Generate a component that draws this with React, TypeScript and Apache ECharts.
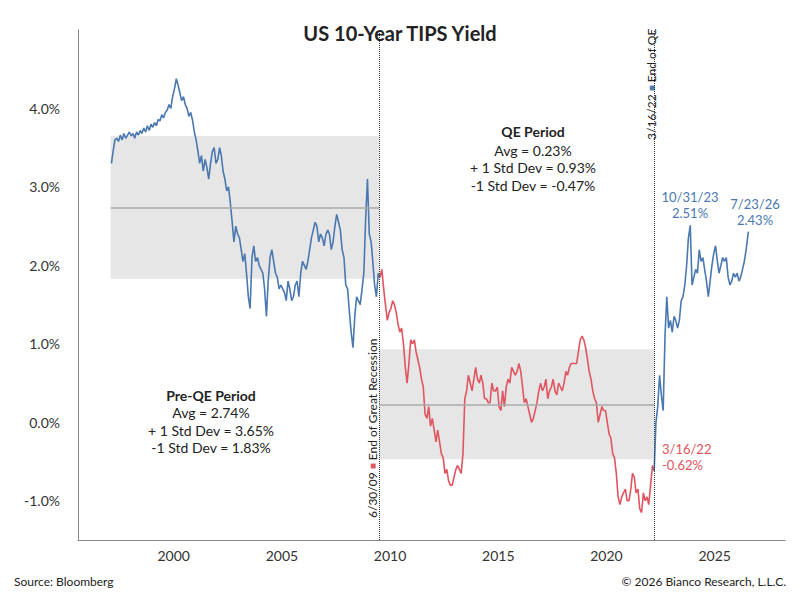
import React, { useEffect, useRef } from "react";
import * as echarts from "echarts";

const preQEStart = [1997, 2]; // monthly from Feb 1997
const preQEValues = [
  3.30,3.45,3.60,3.62,3.58,3.66,3.60,3.68,3.62,3.66,3.70,3.65,
  3.68,3.62,3.70,3.66,3.72,3.68,3.75,3.70,3.78,3.72,3.80,3.76,
  3.82,3.78,3.86,3.84,3.92,3.88,3.95,3.98,4.05,4.00,4.15,4.25,
  4.38,4.30,4.20,4.10,4.15,4.05,4.00,3.90,3.95,3.85,3.70,3.60,
  3.45,3.30,3.40,3.20,3.35,3.25,3.10,3.30,3.45,3.50,3.30,3.35,
  3.50,3.40,3.20,3.10,2.95,3.00,2.80,2.55,2.30,2.50,2.40,2.35,
  2.20,2.05,2.15,1.90,1.60,1.45,2.10,2.25,2.05,2.10,2.00,1.95,
  1.90,1.70,1.35,1.80,2.10,2.20,2.05,1.90,1.85,1.70,1.75,1.70,
  1.65,1.55,1.80,1.70,1.55,1.60,1.75,1.80,1.60,1.90,2.05,2.00,
  1.95,2.05,2.20,2.35,2.45,2.55,2.50,2.30,2.40,2.35,2.25,2.40,
  2.45,2.40,2.20,2.30,2.50,2.65,2.55,2.45,2.20,2.10,1.75,1.70,
  1.40,1.15,0.95,1.35,1.60,1.55,1.50,1.70,1.90,2.60,3.10,2.40,
  2.30,2.05,1.75,1.60,1.90,1.85,
];
const qeStart = [2009, 7];
const qeValues = [
  1.85,1.95,1.70,1.50,1.30,1.40,
  1.45,1.55,1.50,1.40,1.25,1.15,1.20,1.00,0.70,0.50,0.75,1.05,
  1.00,1.05,0.90,0.80,0.70,0.55,0.45,0.10,0.05,0.20,-0.05,0.05,
  -0.10,-0.25,-0.10,-0.25,-0.40,-0.45,-0.65,-0.60,-0.75,-0.80,-0.80,-0.70,
  -0.60,-0.55,-0.60,-0.65,-0.40,0.30,0.40,0.60,0.50,0.40,0.55,0.70,
  0.55,0.50,0.60,0.50,0.30,0.30,0.25,0.25,0.50,0.40,0.40,0.45,
  0.20,0.15,0.40,0.20,0.45,0.55,0.50,0.70,0.65,0.60,0.65,0.75,
  0.65,0.45,0.25,0.30,0.20,0.10,0.00,0.05,0.15,0.25,0.40,0.50,
  0.40,0.45,0.55,0.30,0.40,0.45,0.55,0.40,0.35,0.50,0.45,0.40,
  0.50,0.65,0.60,0.70,0.75,0.75,0.75,0.75,0.90,1.05,1.10,1.05,
  0.95,0.80,0.65,0.55,0.40,0.30,0.25,0.00,0.10,0.20,0.15,0.15,
  0.00,-0.15,-0.20,-0.40,-0.45,-0.65,-0.95,-1.05,-0.95,-0.90,-0.85,-1.00,
  -1.00,-0.85,-0.65,-0.70,-0.90,-0.85,-1.10,-1.15,-0.90,-1.00,-0.95,-1.05,
  -0.80,-0.55,
];
const qeEndValue = -0.62;
const postStart = [2022, 4];
const postValues = [
  0.00,0.20,0.60,0.35,0.15,1.10,1.60,1.20,1.30,
  1.15,1.35,1.30,1.20,1.30,1.55,1.60,1.75,2.00,2.35,2.51,1.75,
  1.85,1.95,1.90,2.20,2.05,2.10,1.95,1.80,1.60,1.80,2.00,2.15,
  2.25,2.05,1.90,2.00,2.10,2.05,2.10,1.85,1.75,1.80,1.90,1.85,
  1.90,1.80,1.85,1.95,2.05,2.20,
];
const lastDate = "2026-07-23";
const lastValue = 2.43;
const preQEStats = { avg: 2.74, hi: 3.65, lo: 1.83 };
const qeStats = { avg: 0.23, hi: 0.93, lo: -0.47 };
const recessionEnd = "2009-06-30";
const qeEnd = "2022-03-16";

function monthly(start: number[], vals: number[]) {
  return vals.map((v, i) => {
    const m = start[1] - 1 + i;
    const y = start[0] + Math.floor(m / 12);
    const mm = (m % 12) + 1;
    return [`${y}-${String(mm).padStart(2, "0")}-15`, v];
  });
}

export default function App() {
  const ref = useRef<HTMLDivElement>(null);
  useEffect(() => {
    const chart = echarts.init(ref.current!, null, { renderer: "svg" });
    const BLUE = "#4a78b0", RED = "#e05560";
    const pre = monthly(preQEStart, preQEValues);
    pre.push([recessionEnd, preQEValues[preQEValues.length - 1]]);
    const qe = [[recessionEnd, qeValues[0]], ...monthly(qeStart, qeValues), [qeEnd, qeEndValue]];
    const post = [[qeEnd, qeEndValue], ...monthly(postStart, postValues), [lastDate, lastValue]];
    const font = "Lato";
    const txt = (x: number, y: number, t: string, o: any = {}) => ({
      type: "text", x, y,
      style: { text: t, font: `${o.bold ? "bold " : ""}${o.size || 14}px Lato`, fill: o.color || "#222", align: o.align || "center", verticalAlign: "middle" },
    });
    chart.setOption({
      animation: false,
      textStyle: { fontFamily: font },
      title: { text: "US 10-Year TIPS Yield", left: "center", top: 18, textStyle: { fontFamily: font, fontSize: 20, fontWeight: "bold", color: "#222" } },
      grid: { left: 78, right: 15, top: 30, bottom: 60 },
      xAxis: {
        type: "time", min: "1995-08-01", max: "2028-04-01",
        axisLine: { onZero: false, lineStyle: { color: "#888" } }, axisTick: { show: false },
        splitLine: { show: false }, interval: 5 * 365.25 * 86400000,
        axisLabel: { fontSize: 14, color: "#333", fontFamily: font, margin: 8,
          formatter: (v: number) => { const y = new Date(v).getFullYear(); return y % 5 === 0 ? String(y) : ""; } },
      },
      yAxis: {
        type: "value", min: -1.5, max: 5, interval: 0.5,
        axisLine: { show: true, lineStyle: { color: "#888" } }, splitLine: { show: false }, axisTick: { show: false },
        axisLabel: { fontSize: 14, color: "#333", fontFamily: font, margin: 18,
          formatter: (v: number) => (Math.abs(v % 1) < 1e-9 && v < 5 ? v.toFixed(1) + "%" : "") },
      },
      series: [
        {
          type: "line", data: pre, showSymbol: false, lineStyle: { color: BLUE, width: 1.6 }, itemStyle: { color: BLUE }, z: 3,
          markArea: { silent: true, itemStyle: { color: "#e6e6e6" }, data: [[{ xAxis: "1997-02-01", yAxis: preQEStats.lo }, { xAxis: recessionEnd, yAxis: preQEStats.hi }]] },
          markLine: { silent: true, symbol: "none", label: { show: false }, lineStyle: { color: "#aaa", type: "solid", width: 1.5 },
            data: [[{ coord: ["1997-02-01", preQEStats.avg] }, { coord: [recessionEnd, preQEStats.avg] }],
                   [{ xAxis: recessionEnd, yAxis: -1.5 }, { xAxis: recessionEnd, yAxis: 5, lineStyle: { color: "#333", type: "dotted", width: 1 } }]] },
        },
        {
          type: "line", data: qe, showSymbol: false, lineStyle: { color: RED, width: 1.6 }, itemStyle: { color: RED }, z: 3,
          markArea: { silent: true, itemStyle: { color: "#e6e6e6" }, data: [[{ xAxis: recessionEnd, yAxis: qeStats.lo }, { xAxis: qeEnd, yAxis: qeStats.hi }]] },
          markLine: { silent: true, symbol: "none", label: { show: false }, lineStyle: { color: "#aaa", type: "solid", width: 1.5 },
            data: [[{ coord: [recessionEnd, qeStats.avg] }, { coord: [qeEnd, qeStats.avg] }],
                   [{ xAxis: qeEnd, yAxis: -1.5 }, { xAxis: qeEnd, yAxis: 5, lineStyle: { color: "#333", type: "dotted", width: 1 } }]] },
        },
        { type: "line", data: post, showSymbol: false, lineStyle: { color: BLUE, width: 1.6 }, itemStyle: { color: BLUE }, z: 3 },
      ],
      graphic: [
        txt(533, 131, "QE Period", { bold: true }),
        txt(533, 150, "Avg = 0.23%"), txt(533, 167, "+ 1 Std Dev = 0.93%"), txt(533, 185, "-1 Std Dev = -0.47%"),
        txt(211, 395, "Pre-QE Period", { bold: true }),
        txt(211, 412, "Avg = 2.74%"), txt(211, 430, "+ 1 Std Dev = 3.65%"), txt(211, 447, "-1 Std Dev = 1.83%"),
        txt(690, 197, "10/31/23", { color: BLUE, size: 13 }), txt(690, 213, "2.51%", { color: BLUE, size: 13 }),
        txt(755, 204, "7/23/26", { color: BLUE, size: 13 }), txt(755, 220, "2.43%", { color: BLUE, size: 13 }),
        txt(662, 449, "3/16/22", { color: RED, size: 13, align: "left" }), txt(662, 465, "-0.62%", { color: RED, size: 13, align: "left" }),
        { type: "text", x: 378, y: 518, rotation: Math.PI / 2,
          style: { text: "6/30/09 {r|■} End of Great Recession", font: "12px Lato", fill: "#222", align: "left", verticalAlign: "bottom",
            rich: { r: { fill: RED, font: "10px Lato" } } } },
        { type: "text", x: 657, y: 140, rotation: Math.PI / 2,
          style: { text: "3/16/22 {b|■} End of QE", font: "12px Lato", fill: "#222", align: "left", verticalAlign: "bottom",
            rich: { b: { fill: BLUE, font: "10px Lato" } } } },
        txt(14, 581, "Source: Bloomberg", { size: 12, align: "left" }),
        txt(786, 581, "© 2026 Bianco Research, L.L.C.", { size: 12, align: "right" }),
      ],
    });
    return () => chart.dispose();
  }, []);
  return <div ref={ref} style={{ width: 800, height: 600, margin: -8 }} />;
}
